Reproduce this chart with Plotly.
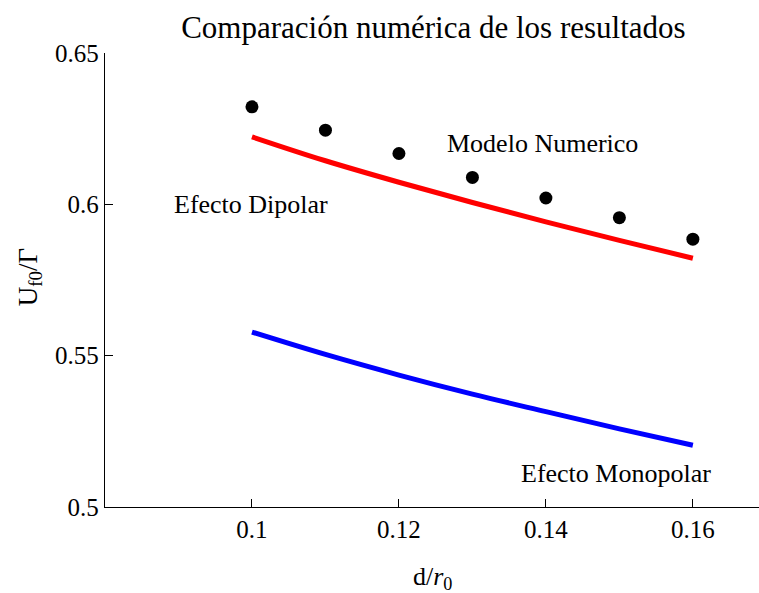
import plotly.graph_objects as go

# d/r0 sample positions
d_r0 = [0.10, 0.11, 0.12, 0.13, 0.14, 0.15, 0.16]

# numerical model results (dots)
modelo_numerico = [0.6322, 0.6245, 0.6168, 0.6089, 0.6021, 0.5956, 0.5885]
# dipolar effect curve (red)
efecto_dipolar = [0.6223, 0.6144, 0.6073, 0.6006, 0.5942, 0.5881, 0.5822]
# monopolar effect curve (blue)
efecto_monopolar = [0.5578, 0.5504, 0.5436, 0.5373, 0.5315, 0.5258, 0.5204]

x_ticks = [0.10, 0.12, 0.14, 0.16]
x_tick_text = ["0.1", "0.12", "0.14", "0.16"]
y_ticks = [0.50, 0.55, 0.60, 0.65]
y_tick_text = ["0.5", "0.55", "0.6", "0.65"]

FONT = "Liberation Serif, Times New Roman, serif"

fig = go.Figure()
fig.add_trace(go.Scatter(x=d_r0, y=efecto_dipolar, mode="lines",
                         line=dict(color="#ff0000", width=5, shape="spline",
                                   smoothing=1.0),
                         showlegend=False))
fig.add_trace(go.Scatter(x=d_r0, y=efecto_monopolar, mode="lines",
                         line=dict(color="#0000ff", width=5, shape="spline",
                                   smoothing=1.0),
                         showlegend=False))
fig.add_trace(go.Scatter(x=d_r0, y=modelo_numerico, mode="markers",
                         marker=dict(color="black", size=13),
                         showlegend=False, cliponaxis=False))

labels = [
    ("Modelo Numerico", 0.1395, 0.6202),
    ("Efecto Dipolar", 0.0999, 0.6000),
    ("Efecto Monopolar", 0.1496, 0.5111),
]
for text, lx, ly in labels:
    fig.add_annotation(x=lx, y=ly, text=text, showarrow=False,
                       font=dict(family=FONT, size=26, color="black"),
                       xanchor="center", yanchor="middle")

# axis titles
fig.add_annotation(xref="paper", yref="paper", x=0.500, y=-0.157,
                   text="d/<i>r</i><sub>0</sub>", showarrow=False,
                   font=dict(family=FONT, size=26, color="black"),
                   xanchor="center", yanchor="middle")
fig.add_annotation(xref="paper", yref="paper", x=-0.1147, y=0.506,
                   text="U<sub>f0</sub>/Γ", showarrow=False, textangle=-90,
                   font=dict(family=FONT, size=27, color="black"),
                   xanchor="center", yanchor="middle")

axis_common = dict(showline=True, linecolor="black", linewidth=1.3,
                   ticks="inside", ticklen=8, tickwidth=1.3, tickcolor="black",
                   showgrid=False, zeroline=False,
                   tickfont=dict(family=FONT, size=25, color="black"))

fig.update_layout(
    width=759, height=593,
    margin=dict(l=105, r=0, t=53, b=86),
    paper_bgcolor="white", plot_bgcolor="white",
    title=dict(text="Comparación numérica de los resultados",
               x=0.571, xanchor="center", y=1 - 27 / 593, yanchor="middle",
               font=dict(family=FONT, size=31, color="black")),
    xaxis=dict(range=[0.08, 0.169], tickvals=x_ticks, ticktext=x_tick_text,
               **axis_common),
    yaxis=dict(range=[0.5, 0.65], tickvals=y_ticks, ticktext=y_tick_text,
               **axis_common),
)

fig.write_html("out.html")
